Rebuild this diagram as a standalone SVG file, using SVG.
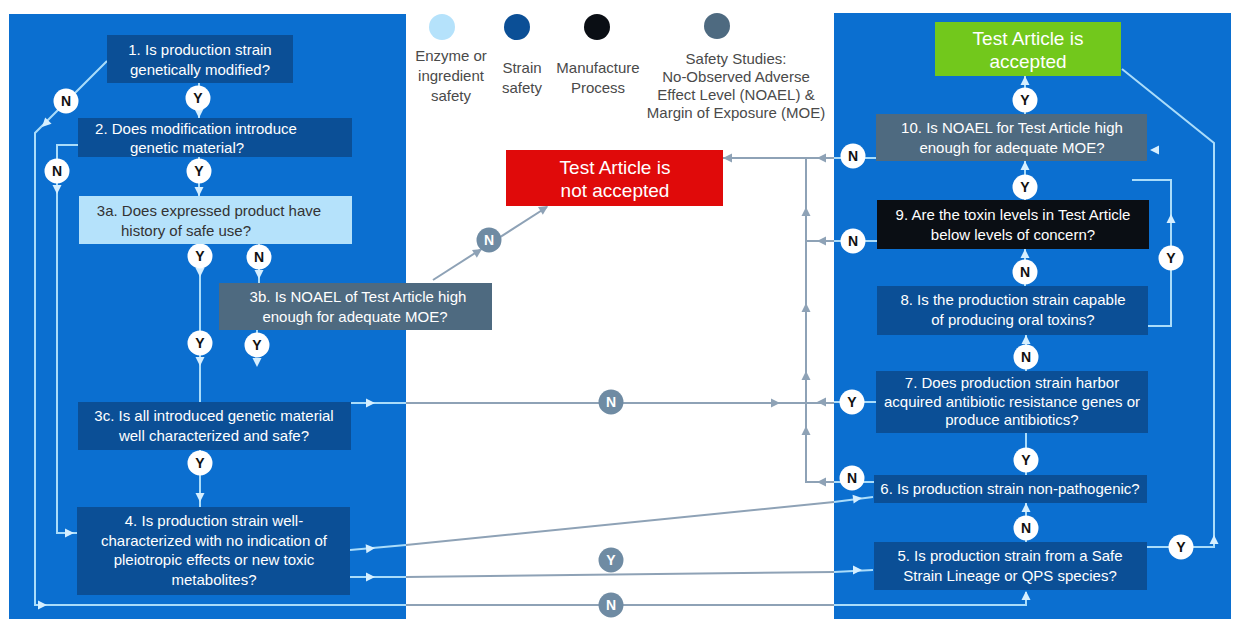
<svg xmlns="http://www.w3.org/2000/svg" xmlns:xlink="http://www.w3.org/1999/xlink" width="1239" height="633" viewBox="0 0 1239 633">
<style>
.panel{fill:#0b6fd0}
.dk{fill:#0b4f96}
.lt{fill:#b5e2fb}
.gy{fill:#4e6a80}
.bk{fill:#0a0e14}
.t{font-family:"Liberation Sans",Arial,sans-serif;font-size:15px;text-anchor:middle;fill:#ffffff}
.td{fill:#333333}
.big{font-size:19px}
.lg{font-family:"Liberation Sans",Arial,sans-serif;font-size:15px;text-anchor:middle;fill:#4a4a4a}
.cl{fill:none;stroke:#aadcfa;stroke-width:2}
.cg{fill:none;stroke:#8ea2b6;stroke-width:2}
.al{fill:#d6efff}
.ag{fill:#8ea2b6}
.wc{fill:#ffffff}
.gc{fill:#6f8ba3}
.lw{font-family:"Liberation Sans",Arial,sans-serif;font-size:14px;font-weight:bold;text-anchor:middle;fill:#111111}
.lgw{font-family:"Liberation Sans",Arial,sans-serif;font-size:14px;font-weight:bold;text-anchor:middle;fill:#ffffff}
</style>
<defs>
<path id="ah" d="M0,0 L-9,-4.5 L-9,4.5 Z"/>
<circle id="c" r="12.5"/>
</defs>
<rect width="1239" height="633" fill="#ffffff"/>
<g id="panels">
<rect class="panel" x="9" y="14" width="397" height="605"/>
<rect class="panel" x="834" y="13" width="397" height="606"/>
</g>
<g id="legend">
<circle cx="442" cy="27" r="13" fill="#b5e2fb"/>
<circle cx="517" cy="27" r="13" fill="#0b4f96"/>
<circle cx="597" cy="27" r="13" fill="#0a0e14"/>
<circle cx="717" cy="26" r="13" fill="#4e6a80"/>
<text class="lg" x="451" y="61">Enzyme or</text>
<text class="lg" x="451" y="81">ingredient</text>
<text class="lg" x="451" y="101">safety</text>
<text class="lg" x="522" y="73">Strain</text>
<text class="lg" x="522" y="93">safety</text>
<text class="lg" x="598" y="73">Manufacture</text>
<text class="lg" x="598" y="93">Process</text>
<text class="lg" x="736" y="64">Safety Studies:</text>
<text class="lg" x="736" y="82">No-Observed Adverse</text>
<text class="lg" x="736" y="100">Effect Level (NOAEL) &amp;</text>
<text class="lg" x="736" y="118">Margin of Exposure (MOE)</text>
</g>
<g id="connectors">
<path class="cl" d="M107,61 L35,133 L35,605 L406,605"/>
<path class="cl" d="M78,145 L57,145 L57,533 L77,533"/>
<path class="cl" d="M199,83 L199,118"/>
<path class="cl" d="M199,157 L199,196"/>
<path class="cl" d="M200,244 L200,402"/>
<path class="cl" d="M259,244 L259,283"/>
<path class="cl" d="M257,330 L257,352"/>
<path class="cl" d="M200,450 L200,507"/>
<path class="cl" d="M351,403 L406,403"/>
<path class="cl" d="M350,550 L406,545"/>
<path class="cl" d="M350,577 L406,577"/>
<path class="cg" d="M433,280 L547,207"/>
<path class="cg" d="M406,403 L834,403"/>
<path class="cg" d="M406,545 L834,502"/>
<path class="cg" d="M406,577 L834,572"/>
<path class="cg" d="M406,605 L834,605"/>
<path class="cg" d="M834,158 L723,158"/>
<path class="cg" d="M834,241 L806,241"/>
<path class="cg" d="M806,158 L806,482 L834,482"/>
<path class="cl" d="M834,605 L1026,605 L1026,592"/>
<path class="cl" d="M834,502 L873,497"/>
<path class="cl" d="M834,572 L873,570"/>
<path class="cl" d="M876,158 L834,158"/>
<path class="cl" d="M877,241 L834,241"/>
<path class="cl" d="M876,402 L834,402"/>
<path class="cl" d="M874,482 L834,482"/>
<path class="cl" d="M1025,114 L1025,76"/>
<path class="cl" d="M1025,200 L1025,161"/>
<path class="cl" d="M1025,286 L1025,249"/>
<path class="cl" d="M1026,371 L1026,335"/>
<path class="cl" d="M1026,433 L1026,475"/>
<path class="cl" d="M1026,542 L1026,503"/>
<path class="cl" d="M1148,326 L1171,326 L1171,180 L1132,180"/>
<path class="cl" d="M1147,547 L1214,547 L1214,143 L1122,69"/>
<use href="#ah" class="al" transform="translate(42,127) rotate(135)"/>
<use href="#ah" class="al" transform="translate(47,605)"/>
<use href="#ah" class="al" transform="translate(57,194) rotate(90)"/>
<use href="#ah" class="al" transform="translate(74,533)"/>
<use href="#ah" class="al" transform="translate(199,118) rotate(90)"/>
<use href="#ah" class="al" transform="translate(199,196) rotate(90)"/>
<use href="#ah" class="al" transform="translate(200,277) rotate(90)"/>
<use href="#ah" class="al" transform="translate(200,366) rotate(90)"/>
<use href="#ah" class="al" transform="translate(259,279) rotate(90)"/>
<use href="#ah" class="al" transform="translate(257,367) rotate(90)"/>
<use href="#ah" class="al" transform="translate(200,502) rotate(90)"/>
<use href="#ah" class="al" transform="translate(375,403)"/>
<use href="#ah" class="al" transform="translate(375,548) rotate(-5)"/>
<use href="#ah" class="al" transform="translate(375,577)"/>
<use href="#ah" class="al" transform="translate(862,498) rotate(-7)"/>
<use href="#ah" class="al" transform="translate(862,570)"/>
<use href="#ah" class="al" transform="translate(1026,591) rotate(-90)"/>
<use href="#ah" class="al" transform="translate(1025,76) rotate(-90)"/>
<use href="#ah" class="al" transform="translate(1025,161) rotate(-90)"/>
<use href="#ah" class="al" transform="translate(1025,249) rotate(-90)"/>
<use href="#ah" class="al" transform="translate(1026,335) rotate(-90)"/>
<use href="#ah" class="al" transform="translate(1026,503) rotate(-90)"/>
<use href="#ah" class="al" transform="translate(1171,214) rotate(-90)"/>
<use href="#ah" class="al" transform="translate(1214,535) rotate(-90)"/>
<use href="#ah" class="al" transform="translate(1150,150) rotate(180)"/>
<use href="#ah" class="ag" transform="translate(482,249) rotate(-32.6)"/>
<use href="#ah" class="ag" transform="translate(548,206) rotate(-32.6)"/>
<use href="#ah" class="ag" transform="translate(780,403)"/>
<use href="#ah" class="ag" transform="translate(723,158) rotate(180)"/>
<use href="#ah" class="ag" transform="translate(817,158) rotate(180)"/>
<use href="#ah" class="ag" transform="translate(817,241) rotate(180)"/>
<use href="#ah" class="ag" transform="translate(817,402) rotate(180)"/>
<use href="#ah" class="ag" transform="translate(817,482) rotate(180)"/>
<use href="#ah" class="ag" transform="translate(806,207) rotate(-90)"/>
<use href="#ah" class="ag" transform="translate(806,303) rotate(-90)"/>
<use href="#ah" class="ag" transform="translate(806,371) rotate(-90)"/>
<use href="#ah" class="ag" transform="translate(806,426) rotate(-90)"/>
<g>
<use href="#c" class="wc" x="66" y="101"/><text class="lw" x="66" y="106">N</text>
<use href="#c" class="wc" x="198" y="98"/><text class="lw" x="198" y="103">Y</text>
<use href="#c" class="wc" x="57" y="171"/><text class="lw" x="57" y="176">N</text>
<use href="#c" class="wc" x="199" y="171"/><text class="lw" x="199" y="176">Y</text>
<use href="#c" class="wc" x="200" y="256"/><text class="lw" x="200" y="261">Y</text>
<use href="#c" class="wc" x="259" y="257"/><text class="lw" x="259" y="262">N</text>
<use href="#c" class="wc" x="200" y="343"/><text class="lw" x="200" y="348">Y</text>
<use href="#c" class="wc" x="257" y="345"/><text class="lw" x="257" y="350">Y</text>
<use href="#c" class="wc" x="200" y="463"/><text class="lw" x="200" y="468">Y</text>
<use href="#c" class="gc" x="489" y="240"/><text class="lgw" x="489" y="245">N</text>
<use href="#c" class="gc" x="611" y="402"/><text class="lgw" x="611" y="407">N</text>
<use href="#c" class="gc" x="611" y="560"/><text class="lgw" x="611" y="565">Y</text>
<use href="#c" class="gc" x="611" y="605"/><text class="lgw" x="611" y="610">N</text>
<use href="#c" class="wc" x="1025" y="100"/><text class="lw" x="1025" y="105">Y</text>
<use href="#c" class="wc" x="853" y="156"/><text class="lw" x="853" y="161">N</text>
<use href="#c" class="wc" x="1025" y="187"/><text class="lw" x="1025" y="192">Y</text>
<use href="#c" class="wc" x="853" y="241"/><text class="lw" x="853" y="246">N</text>
<use href="#c" class="wc" x="1025" y="272"/><text class="lw" x="1025" y="277">N</text>
<use href="#c" class="wc" x="1171" y="258"/><text class="lw" x="1171" y="263">Y</text>
<use href="#c" class="wc" x="1026" y="357"/><text class="lw" x="1026" y="362">N</text>
<use href="#c" class="wc" x="852" y="402"/><text class="lw" x="852" y="407">Y</text>
<use href="#c" class="wc" x="1026" y="460"/><text class="lw" x="1026" y="465">Y</text>
<use href="#c" class="wc" x="852" y="478"/><text class="lw" x="852" y="483">N</text>
<use href="#c" class="wc" x="1026" y="528"/><text class="lw" x="1026" y="533">N</text>
<use href="#c" class="wc" x="1181" y="547"/><text class="lw" x="1181" y="552">Y</text>
</g>
</g>
<g id="n1">
<rect class="dk" x="107" y="35" width="186" height="48"/>
<text class="t" x="200" y="55">1. Is production strain</text>
<text class="t" x="200" y="75">genetically modified?</text>
</g>
<g id="n2">
<rect class="dk" x="78" y="118" width="274" height="39"/>
<text class="t" x="196" y="134">2. Does modification introduce</text>
<text class="t" x="187" y="153">genetic material?</text>
</g>
<g id="n3a">
<rect class="lt" x="79" y="196" width="273" height="48"/>
<text class="t td" x="209" y="216">3a. Does expressed product have</text>
<text class="t td" x="186" y="236">history of safe use?</text>
</g>
<g id="n3b">
<rect class="gy" x="219" y="283" width="273" height="47"/>
<text class="t" x="358" y="302">3b. Is NOAEL of Test Article high</text>
<text class="t" x="355" y="322">enough for adequate MOE?</text>
</g>
<g id="n3c">
<rect class="dk" x="78" y="402" width="273" height="48"/>
<text class="t" x="214" y="421">3c. Is all introduced genetic material</text>
<text class="t" x="214" y="441">well characterized and safe?</text>
</g>
<g id="n4">
<rect class="dk" x="77" y="507" width="273" height="88"/>
<text class="t" x="214" y="526">4. Is production strain well-</text>
<text class="t" x="214" y="546">characterized with no indication of</text>
<text class="t" x="214" y="565">pleiotropic effects or new toxic</text>
<text class="t" x="214" y="585">metabolites?</text>
</g>
<g id="rejected">
<rect x="506" y="150" width="217" height="56" fill="#e00a0a"/>
<text class="t big" x="615" y="174">Test Article is</text>
<text class="t big" x="615" y="197">not accepted</text>
</g>
<g id="accepted">
<rect x="935" y="22" width="186" height="54" fill="#72c81c"/>
<text class="t big" x="1028" y="45">Test Article is</text>
<text class="t big" x="1028" y="68">accepted</text>
</g>
<g id="n10">
<rect class="gy" x="876" y="114" width="271" height="47"/>
<text class="t" x="1012" y="133">10. Is NOAEL for Test Article high</text>
<text class="t" x="1012" y="153">enough for adequate MOE?</text>
</g>
<g id="n9">
<rect class="bk" x="877" y="200" width="272" height="49"/>
<text class="t" x="1013" y="220">9. Are the toxin levels in Test Article</text>
<text class="t" x="1013" y="240">below levels of concern?</text>
</g>
<g id="n8">
<rect class="dk" x="877" y="286" width="271" height="49"/>
<text class="t" x="1013" y="305">8. Is the production strain capable</text>
<text class="t" x="1013" y="325">of producing oral toxins?</text>
</g>
<g id="n7">
<rect class="dk" x="876" y="371" width="272" height="62"/>
<text class="t" x="1012" y="388">7. Does production strain harbor</text>
<text class="t" x="1012" y="407">acquired antibiotic resistance genes or</text>
<text class="t" x="1012" y="425">produce antibiotics?</text>
</g>
<g id="n6">
<rect class="dk" x="874" y="475" width="273" height="28"/>
<text class="t" x="1010" y="494">6. Is production strain non-pathogenic?</text>
</g>
<g id="n5">
<rect class="dk" x="874" y="542" width="273" height="48"/>
<text class="t" x="1010" y="561">5. Is production strain from a Safe</text>
<text class="t" x="1010" y="581">Strain Lineage or QPS species?</text>
</g>
</svg>
